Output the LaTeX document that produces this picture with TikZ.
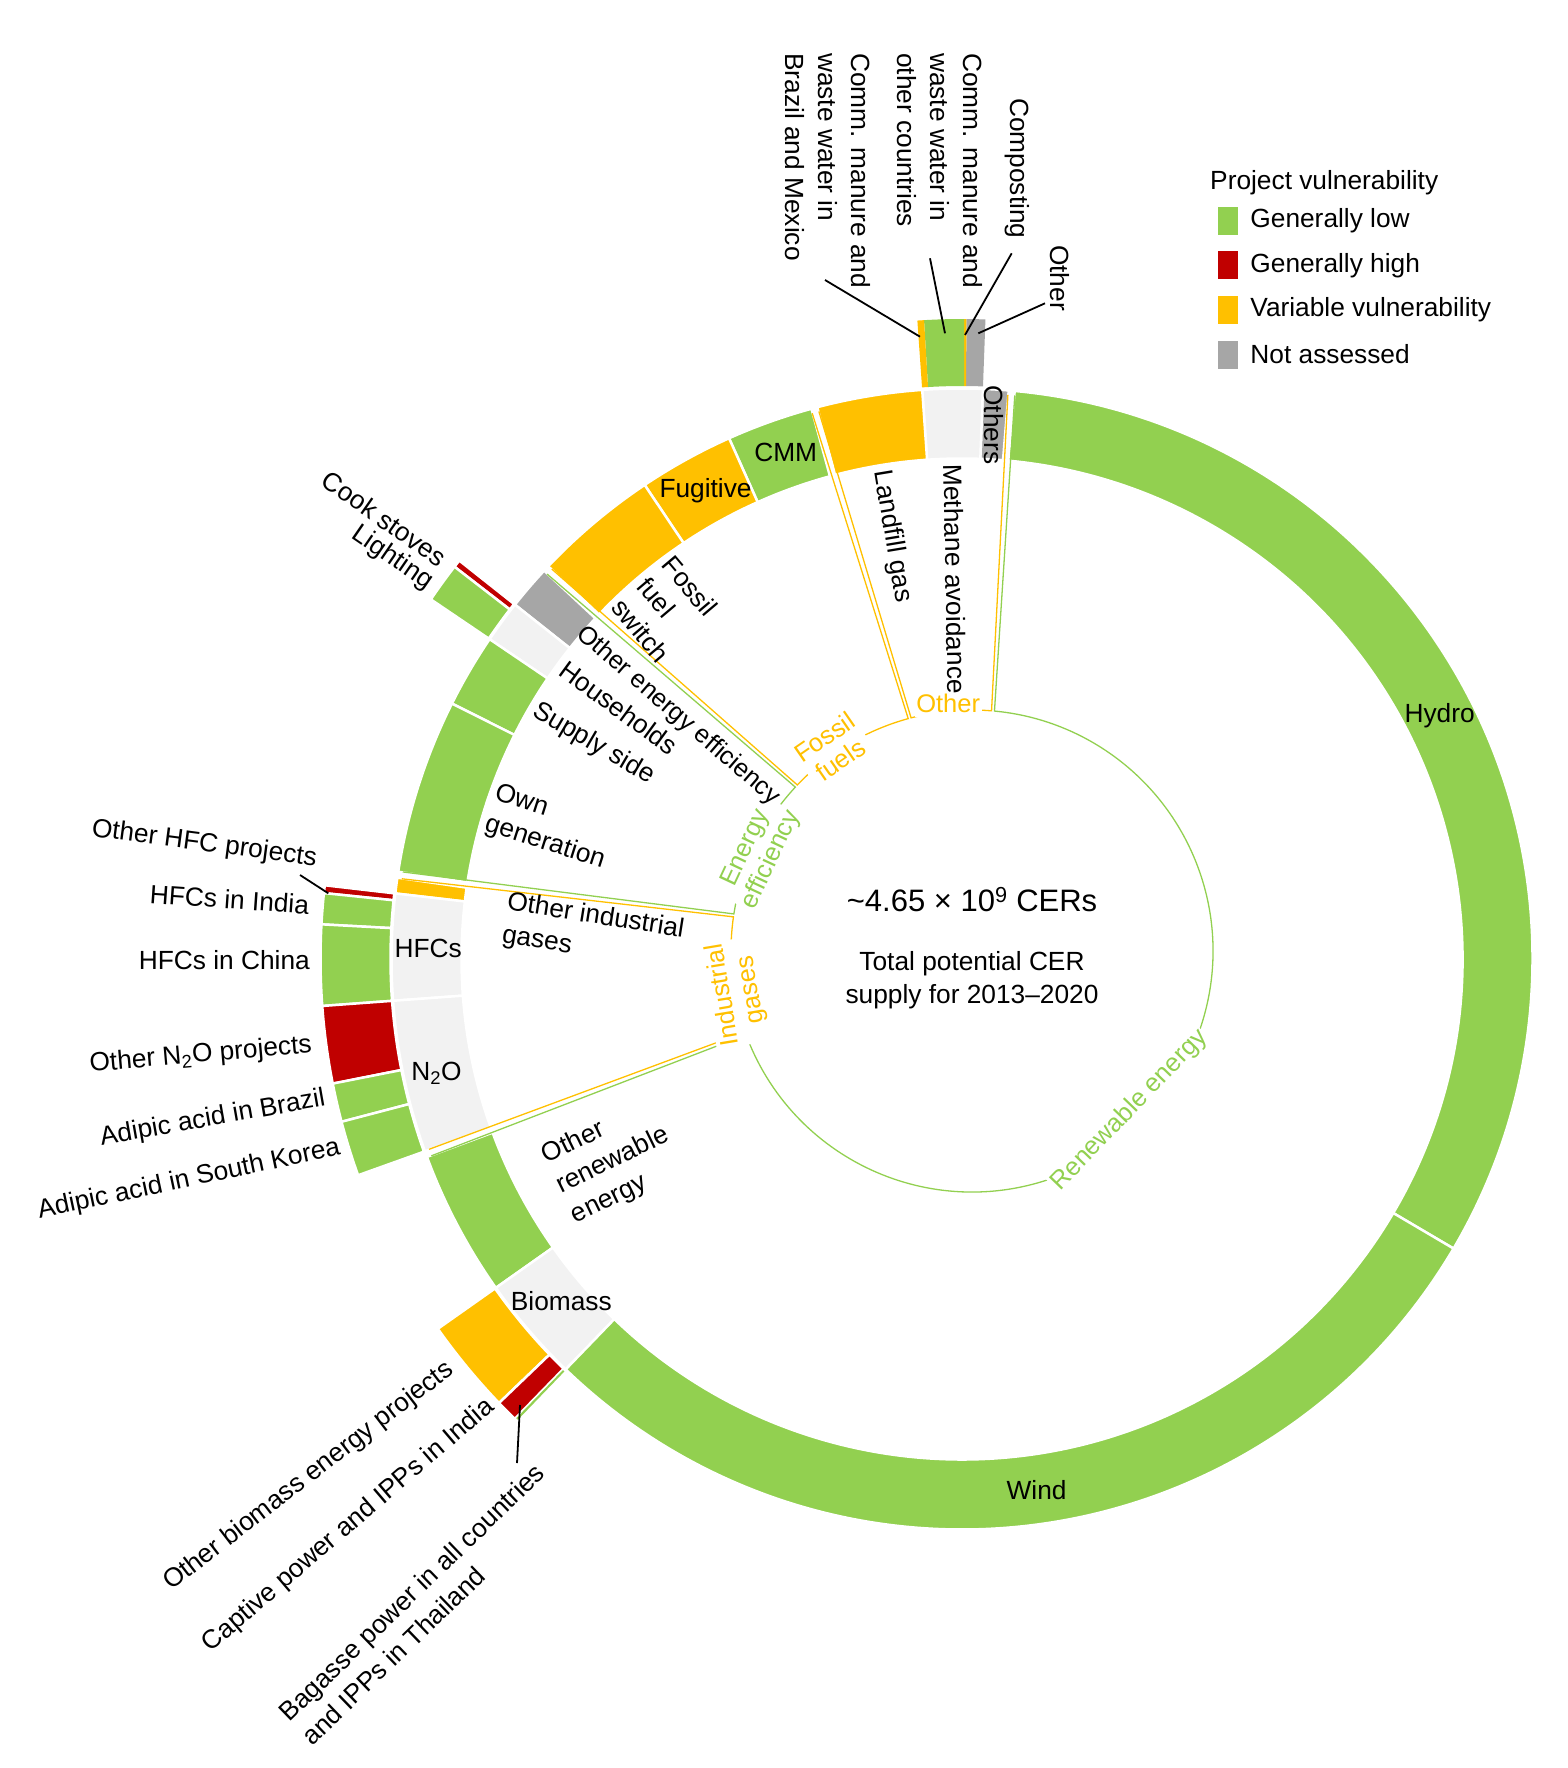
\documentclass[tikz,border=0pt]{standalone}
\usepackage{fontspec}
\setmainfont{Liberation Sans}
\usetikzlibrary{positioning,calc}

\definecolor{lowgreen}{RGB}{146,208,80}
\definecolor{highred}{RGB}{192,0,0}
\definecolor{varorange}{RGB}{255,192,0}
\definecolor{nagray}{RGB}{166,166,166}
\definecolor{grouplight}{RGB}{242,242,242}

\begin{document}
\begin{tikzpicture}[x=1pt,y=1pt,
every node/.style={font=\fontsize{26.3}{33}\selectfont,inner sep=2pt},
segment/.style={draw=white,line width=2.5pt},
bracket/.style={line width=1.3pt},
leader/.style={line width=1.8pt},
inlabel/.style={anchor=west,align=left},
outlabel/.style={anchor=east},
grouplabel/.style={fill=white,inner xsep=1.5pt,inner ysep=4pt,align=center,font=\fontsize{25.5}{28}\selectfont},
swatch/.style={minimum width=20pt,minimum height=28pt,inner sep=0pt}]
\useasboundingbox (0,0) rectangle (1567,-1768);
\coordinate (ringc) at (962,-959);
\coordinate (innc) at (972,-951);

\begin{scope}[shift={(ringc)}]
% project types
\foreach \sa/\sb/\col in {-30.5/84.7/lowgreen,85.3/87.9/nagray,87.9/94.0/grouplight,94.0/104.7/varorange,
  105.3/114.1/lowgreen,114.1/123.8/varorange,123.8/136.5/varorange,137.1/141.6/nagray,
  141.6/145.9/grouplight,145.9/153.4/lowgreen,153.4/171.2/lowgreen,171.8/173.4/varorange,
  173.4/184.2/grouplight,184.2/199.7/grouplight,200.3/215.2/lowgreen,215.2/226.0/grouplight,
  226.0/329.5/lowgreen}
  \path[segment,fill=\col] (\sa:500.5pt) arc[start angle=\sa,end angle=\sb,radius=500.5pt]
    -- (\sb:570.5pt) arc[start angle=\sb,end angle=\sa,radius=570.5pt] -- cycle;
% sub-types
\foreach \sa/\sb/\col in {141.6/142.3/highred,142.3/145.9/lowgreen,173.4/174.1/highred,
  174.1/176.9/lowgreen,176.9/184.2/lowgreen,184.2/191.2/highred,191.2/194.7/lowgreen,
  194.7/199.7/lowgreen,215.2/223.8/varorange,223.8/225.8/highred}
  \path[segment,fill=\col] (\sa:571.5pt) arc[start angle=\sa,end angle=\sb,radius=571.5pt]
    -- (\sb:641.5pt) arc[start angle=\sb,end angle=\sa,radius=641.5pt] -- cycle;
\foreach \sa/\sb/\col in {87.9/89.6/nagray,89.6/89.8/varorange,89.8/93.4/lowgreen,
  93.4/94.0/varorange,225.85/226.05/lowgreen}
  \fill[\col] (\sa:573pt) arc[start angle=\sa,end angle=\sb,radius=573pt]
    -- (\sb:640pt) arc[start angle=\sb,end angle=\sa,radius=640pt] -- cycle;
\end{scope}

% sectors
\foreach \sa/\sb/\col in {200/445/lowgreen,171.5/200/varorange,136.8/171.5/lowgreen,
  105/136.8/varorange,85/105/varorange}
  \draw[bracket,\col] ($(ringc)+({\sa+0.35}:566pt)$) -- ($(innc)+({\sa+0.35}:241pt)$)
    arc[start angle=\sa+0.35,end angle=\sb-0.35,radius=241pt] -- ($(ringc)+({\sb-0.35}:566pt)$);

\node[grouplabel,text=varorange] (gother) at ($(innc)+(95.5:249pt)$) {Other};
\node[grouplabel,text=varorange,rotate=34.6] (gfossil) at ($(innc)+(124.6:246pt)$) {Fossil\\fuels};
\node[grouplabel,text=lowgreen,rotate=65] (gee) at ($(innc)+(155.6:234pt)$) {Energy\\efficiency};
\node[grouplabel,text=varorange,rotate=99.5] (gig) at ($(innc)+(190:238pt)$) {Industrial\\gases};
\node[grouplabel,text=lowgreen,rotate=46,inner ysep=9pt] (gre) at ($(innc)+(-45.3:224pt)$) {Renewable energy};

\begin{scope}[shift={(ringc)}]
\node (hydro) at (27:536pt) {Hydro};
\node (wind) at (-82:536pt) {Wind};
\node (cmm) at (109.2:536pt) {CMM};
\node (fugitive) at (118.7:534pt) {Fugitive};
\node (hfcs) at (178.9:534pt) {HFCs};
\node (ntwoo) at (192.3:538pt) {N\textsubscript{2}O};
\node (biomass) at (220.5:527pt) {Biomass};
\node[rotate=-90] (others) at (86.6:535pt) {Others};

\node[inlabel,rotate=-80.6] (landfill) at (99.4:497pt) {Landfill gas};
\node[inlabel,rotate=-89] (methane) at (91:497pt) {Methane avoidance};
\node[inlabel,rotate=-49.8] (ffs) at (130.2:497pt) {Fossil\\fuel\\switch};
\node[inlabel,rotate=-40.7,font=\fontsize{25.3}{33}\selectfont] (oee) at (139.4:506pt) {Other energy efficiency};
\node[inlabel,rotate=-36.2] (households) at (143.8:497pt) {Households};
\node[inlabel,rotate=-30.3] (supply) at (149.7:497pt) {Supply side};
\node[inlabel,rotate=-17.7] (owngen) at (162.3:497pt) {Own\\generation};
\node[inlabel,rotate=-9] (oig) at (175:461pt) {Other industrial\\gases};
\node[inlabel,rotate=26] (ore) at (209.5:466pt) {Other\\renewable\\energy};

\node[outlabel,rotate=-34.5] (lighting) at (144.8:648pt) {Lighting};
\node[outlabel,rotate=-35] (cook) at (142.4:652pt) {Cook stoves};
\node[outlabel,rotate=-7.5] (ohfc) at (171.2:651pt) {Other HFC projects};
\node[outlabel,rotate=-4] (hfcindia) at (175.25:653pt) {HFCs in India};
\node[outlabel] (hfcchina) at (180.1:650pt) {HFCs in China};
\node[outlabel,rotate=5] (on2o) at (187.6:654pt) {Other N\textsubscript{2}O projects};
\node[outlabel,rotate=10] (adbrazil) at (192.4:650pt) {Adipic acid in Brazil};
\node[outlabel,rotate=12] (adkorea) at (196.9:648pt) {Adipic acid in South Korea};
\node[outlabel,rotate=37.6] (obio) at (218.6:652pt) {Other biomass energy projects};
\node[outlabel,rotate=40.5] (captive) at (223.4:646pt) {Captive power and IPPs in India};
\end{scope}

\node[rotate=44,align=left] (bagasse) at (423,-1604) {Bagasse power in all countries\\and IPPs in Thailand};
\node[rotate=-90,anchor=west,align=left] (cmbm) at (828,-51) {Comm. manure and\\waste water in\\Brazil and Mexico};
\node[rotate=-90,anchor=west,align=left] (cmoc) at (940,-51) {Comm. manure and\\waste water in\\other countries};
\node[rotate=-90,anchor=west] (compost) at (1017,-96) {Composting};
\node[rotate=-90,anchor=west] (mother) at (1060,-243) {Other};

\coordinate (cmbmA) at (825,-280);   \coordinate (cmbmB) at (920,-336.7);
\coordinate (cmocA) at (930,-258.3); \coordinate (cmocB) at (945,-333.3);
\coordinate (compA) at (1011.7,-253.3); \coordinate (compB) at (965,-335);
\coordinate (mothA) at (1045,-303.3); \coordinate (mothB) at (978.3,-333.3);
\coordinate (ohfcA) at (300,-875);   \coordinate (ohfcB) at (328.3,-893.3);
\coordinate (bagA) at (517,-1463);   \coordinate (bagB) at (520,-1405);
\draw[leader] (cmbmA) -- (cmbmB);
\draw[leader] (cmocA) -- (cmocB);
\draw[leader] (compA) -- (compB);
\draw[leader] (mothA) -- (mothB);
\draw[leader] (ohfcA) -- (ohfcB);
\draw[leader] (bagA) -- (bagB);

\node[font=\fontsize{31}{36}\selectfont] (total) at (972,-900) {\textasciitilde 4.65 × 10\textsuperscript{9} CERs};
\node[align=center] (supplytxt) at (972,-980) {Total potential CER\\supply for 2013–2020};

% legend
\node[anchor=base west] (legtitle) at (1208,-190) {Project vulnerability};
\foreach \col/\lab [count=\i] in {lowgreen/Generally low,highred/Generally high,varorange/Variable vulnerability,nagray/Not assessed} {
  \node[swatch,fill=\col] (sw\i) at (1228,{-221-44.5*(\i-1)}) {};
  \node[right=10pt of sw\i] (leg\i) {\lab};
}
\end{tikzpicture}
\end{document}
